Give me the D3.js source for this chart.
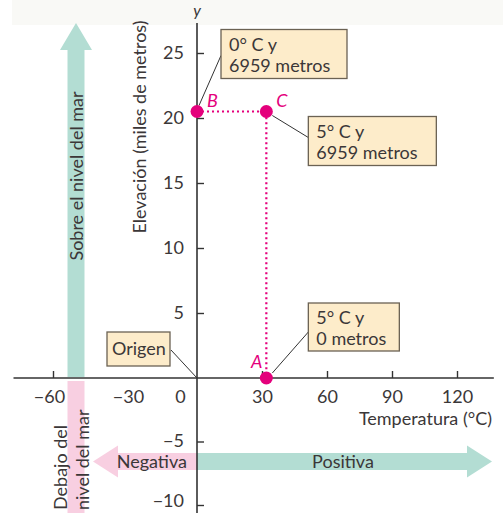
<!DOCTYPE html>
<html>
<head>
<meta charset="utf-8">
<title>Temperatura y elevación</title>
<script src="https://d3js.org/d3.v7.min.js"></script>
<style>
    body { margin: 0; background: #fff; }
    text { font-family: Lato, "Noto Sans", sans-serif; fill: #3b3738; }
    .tick line { stroke: #333; stroke-width: 1.4px; }
    .tick text { font-size: 18px; }
</style>
</head>
<body>
<script>
    // tick values
    const xTicks = [-60, -30, 0, 30, 60, 90, 120];
    const yTicks = [-10, -5, 5, 10, 15, 20, 25];

    // points
    const ptNames = ["A", "B", "C"];
    const ptTemp = [32, 0, 32];
    const ptElev = [0, 20.5, 20.5];

    // callouts (two lines each)
    const calloutPoint = ["B", "C", "A", "O"];
    const calloutLine1 = ["0° C y", "5° C y", "5° C y", "Origen"];
    const calloutLine2 = ["6959 metros", "6959 metros", "0 metros", ""];

    const width = 503, height = 513;
    const pink = "#e4007c", green = "#b3ddd3", softPink = "#f8cfe1";

    const svg = d3.select("body").append("svg")
        .attr("width", width)
        .attr("height", height);

    // the printed axes are not even on the negative side, so piecewise scales
    const x = d3.scaleLinear().domain([-60, -30, 0, 120]).range([53, 132, 197, 457]);
    const y = d3.scaleLinear().domain([-10, 0, 25]).range([505, 378, 53]);

    svg.append("rect").attr("x", 12).attr("y", 0).attr("width", width - 12).attr("height", 25)
        .attr("fill", "#f9f9f6");

    const x0 = x(0), y0 = y(0);

    // big arrows
    function poly(pts, fill) {
        svg.append("polygon").attr("points", pts.map(p => p.join(",")).join(" ")).attr("fill", fill);
    }
    // up: above sea level
    poly([[67.5, y0 - 1], [67.5, 50], [60, 50], [76, 23], [92, 50], [84.5, 50], [84.5, y0 - 1]], green);
    // down: below sea level
    poly([[67.5, y0 + 3], [84.5, y0 + 3], [84.5, height], [67.5, height]], softPink);
    // right: positive
    const hy = y0 + 83.5;
    poly([[x0, hy - 8.5], [467, hy - 8.5], [467, hy - 16], [492, hy], [467, hy + 16], [467, hy + 8.5], [x0, hy + 8.5]], green);
    // left: negative
    poly([[x0, hy - 8.5], [118, hy - 8.5], [118, hy - 16], [93, hy], [118, hy + 16], [118, hy + 8.5], [x0, hy + 8.5]], softPink);

    svg.append("text").attr("transform", "translate(83,176) rotate(-90)")
        .attr("text-anchor", "middle").style("font-size", "18px").text("Sobre el nivel del mar");
    svg.append("text").attr("transform", "translate(67,510) rotate(-90)")
        .style("font-size", "18px").text("Debajo del");
    svg.append("text").attr("transform", "translate(88.5,510) rotate(-90)")
        .style("font-size", "18px").text("nivel del mar");
    svg.append("text").attr("x", 187).attr("y", hy + 6).attr("text-anchor", "end")
        .style("font-size", "18px").text("Negativa");
    svg.append("text").attr("x", 343).attr("y", hy + 6).attr("text-anchor", "middle")
        .style("font-size", "18px").text("Positiva");

    // axis lines
    svg.append("line").attr("x1", x(-75)).attr("x2", x(137)).attr("y1", y0).attr("y2", y0)
        .attr("stroke", "#333").attr("stroke-width", 1.6);
    svg.append("line").attr("x1", x0).attr("x2", x0).attr("y1", y(27.3)).attr("y2", height)
        .attr("stroke", "#333").attr("stroke-width", 1.6);

    const xAxis = svg.append("g").attr("transform", `translate(0,${y0})`)
        .call(d3.axisBottom(x).tickValues(xTicks).tickSize(-7).tickPadding(12));
    xAxis.select(".domain").remove();
    xAxis.selectAll(".tick").filter(d => d === 0 || d === -30).select("line").remove();
    xAxis.selectAll(".tick").filter(d => d === 0).select("text").attr("dx", -17);
    xAxis.selectAll(".tick").filter(d => d < 0).select("text").attr("dx", -4);

    const yAxis = svg.append("g").attr("transform", `translate(${x0},0)`)
        .call(d3.axisLeft(y).tickValues(yTicks).tickSize(-7).tickPadding(13));
    yAxis.select(".domain").remove();
    yAxis.selectAll(".tick").filter(d => d === -10).select("text").attr("dy", "0.1em");
    yAxis.selectAll(".tick").filter(d => d === -5).select("text").attr("dy", "0.25em");

    svg.append("text").attr("x", x0).attr("y", 16).attr("text-anchor", "middle")
        .style("font-size", "16px").style("font-style", "italic").text("y");
    svg.append("text").attr("transform", "translate(146,127) rotate(-90)")
        .attr("text-anchor", "middle").style("font-size", "18px").text("Elevación (miles de metros)");
    svg.append("text").attr("x", 492).attr("y", 425).attr("text-anchor", "end")
        .style("font-size", "18px").text("Temperatura (°C)");

    // dotted guides B-C and C-A
    const pt = {};
    ptNames.forEach((n, i) => pt[n] = [x(ptTemp[i]), y(ptElev[i])]);
    pt.O = [x0, y0];
    svg.append("path")
        .attr("d", d3.line()([pt.B, pt.C, pt.A]))
        .attr("fill", "none").attr("stroke", pink).attr("stroke-width", 2.2)
        .attr("stroke-dasharray", "2,3");

    // callout boxes: offset of box from its point, size, leader end
    const boxDx = [24, 42, 42, -90], boxDy = [-82, 5, -75, -46];
    const boxW = [126, 128, 91, 63], boxH = [49, 49, 48, 34];
    const leadFrom = [[2, -6], [6, 4], [6, -5], [0, 0]];
    const leadTo = [[24, -56], [42, 26], [42, -46], [-26, -28]];

    calloutPoint.forEach((p, i) => {
        const [px, py] = pt[p];
        svg.append("line")
            .attr("x1", px + leadFrom[i][0]).attr("y1", py + leadFrom[i][1])
            .attr("x2", px + leadTo[i][0]).attr("y2", py + leadTo[i][1])
            .attr("stroke", "#333").attr("stroke-width", 1);
        svg.append("rect")
            .attr("x", px + boxDx[i]).attr("y", py + boxDy[i])
            .attr("width", boxW[i]).attr("height", boxH[i])
            .attr("fill", "#fdecca").attr("stroke", "#6b6253").attr("stroke-width", 1.3);
        const bx = px + boxDx[i], by = py + boxDy[i];
        if (calloutLine2[i]) {
            svg.append("text").attr("x", bx + 8).attr("y", by + 21).style("font-size", "18px").text(calloutLine1[i]);
            svg.append("text").attr("x", bx + 8).attr("y", by + 42).style("font-size", "18px").text(calloutLine2[i]);
        } else {
            svg.append("text").attr("x", bx + 5).attr("y", by + 23).style("font-size", "18px").text(calloutLine1[i]);
        }
    });

    // points
    svg.selectAll("circle.pt").data(ptNames).enter().append("circle")
        .attr("class", "pt")
        .attr("cx", (d, i) => x(ptTemp[i]))
        .attr("cy", (d, i) => y(ptElev[i]))
        .attr("r", 6.5)
        .attr("fill", pink);

    const labDx = [-4, 10, 10], labAnchor = ["end", "start", "start"];
    svg.selectAll("text.lab").data(ptNames).enter().append("text")
        .attr("class", "lab")
        .attr("x", (d, i) => x(ptTemp[i]) + labDx[i])
        .attr("y", (d, i) => y(ptElev[i]) - (d === "A" ? 10 : 5))
        .attr("text-anchor", (d, i) => labAnchor[i])
        .style("font-size", "18px").style("font-style", "italic")
        .style("fill", pink)
        .text(d => d);
</script>
</body>
</html>
